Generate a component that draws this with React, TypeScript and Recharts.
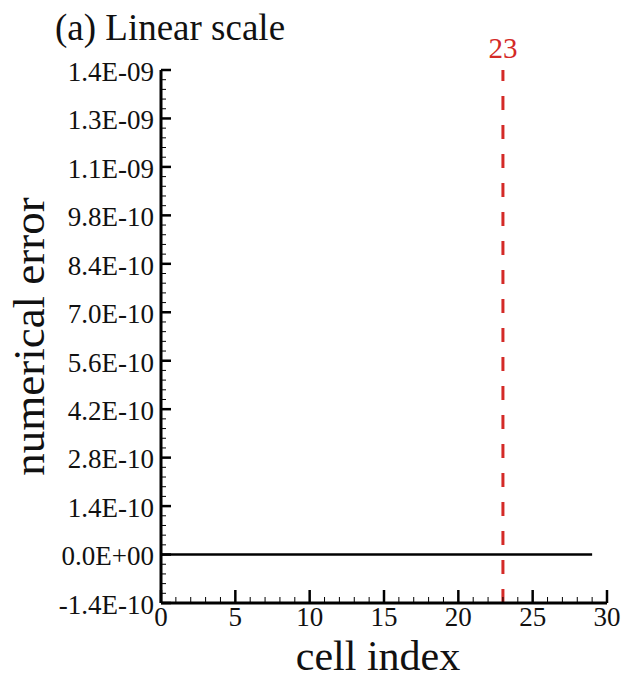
import React from 'react';
import {
  LineChart,
  Line,
  XAxis,
  YAxis,
  ReferenceLine,
  Label
} from 'recharts';

// cell index and numerical error (all zero on the linear scale)
const cellIndex = [
  0, 1, 2, 3, 4, 5, 6, 7, 8, 9, 10, 11, 12, 13, 14,
  15, 16, 17, 18, 19, 20, 21, 22, 23, 24, 25, 26, 27, 28, 29
];
const numericalError = [
  0, 0, 0, 0, 0, 0, 0, 0, 0, 0, 0, 0, 0, 0, 0,
  0, 0, 0, 0, 0, 0, 0, 0, 0, 0, 0, 0, 0, 0, 0
];

const markedCell = 23;

const xMajorTicks = [0, 5, 10, 15, 20, 25, 30];
const yMajorTicks = [
  -1.4e-10, 0, 1.4e-10, 2.8e-10, 4.2e-10, 5.6e-10,
  7.0e-10, 8.4e-10, 9.8e-10, 1.12e-9, 1.26e-9, 1.4e-9
];
const yStep = 1.4e-10;
const yMinorPerMajor = 5;
const xMinorPerMajor = 5;

const data = cellIndex.map((c, i) => ({ cell: c, error: numericalError[i] }));

// minor ticks between the major ones
const xTicks: number[] = [];
for (let i = 0; i < xMajorTicks.length - 1; i++) {
  const a = xMajorTicks[i];
  const b = xMajorTicks[i + 1];
  for (let j = 0; j < xMinorPerMajor; j++) xTicks.push(a + ((b - a) * j) / xMinorPerMajor);
}
xTicks.push(xMajorTicks[xMajorTicks.length - 1]);

const yTicks: number[] = [];
for (let i = 0; i < yMajorTicks.length - 1; i++) {
  const a = yMajorTicks[i];
  for (let j = 0; j < yMinorPerMajor; j++) yTicks.push(j === 0 ? a : a + (yStep * j) / yMinorPerMajor);
}
yTicks.push(yMajorTicks[yMajorTicks.length - 1]);

const FONT = '"Liberation Serif", "Times New Roman", serif';
const RED = '#d42a27';

const fmtExp = (v: number) => {
  const [m, e] = v.toExponential(1).split('e');
  const sign = e[0] === '-' ? '-' : '+';
  const digits = e.replace(/[+-]/, '').padStart(2, '0');
  return `${m}E${sign}${digits}`;
};

const XTick = (props: any) => {
  const { x, y, payload } = props;
  const major = xMajorTicks.includes(payload.value);
  return (
    <g>
      <line x1={x} x2={x} y1={y} y2={y - (major ? 13 : 6)} stroke="#000" strokeWidth={major ? 2.5 : 1} />
      {major && (
        <text x={x} y={y + 23} textAnchor="middle" fontSize={27} fontFamily={FONT} fill="#111">
          {payload.value}
        </text>
      )}
    </g>
  );
};

const YTick = (props: any) => {
  const { x, y, payload } = props;
  const k = Math.round(payload.value / (yStep / yMinorPerMajor));
  const major = k % yMinorPerMajor === 0;
  return (
    <g>
      <line x1={x} x2={x + (major ? 10 : 5)} y1={y} y2={y} stroke="#000" strokeWidth={major ? 2.5 : 1} />
      {major && (
        <text x={x - 7} y={y} dy="0.4em" textAnchor="end" fontSize={27} fontFamily={FONT} fill="#111">
          {fmtExp(payload.value)}
        </text>
      )}
    </g>
  );
};

export default function App() {
  return (
    <div style={{ position: 'relative', width: 629, height: 680, background: '#fff' }}>
      <style>{'body{margin:0}'}</style>
      <LineChart
        width={629}
        height={680}
        data={data}
        margin={{ top: 70, right: 22, bottom: 37, left: 41 }}
      >
        <XAxis
          dataKey="cell"
          type="number"
          domain={[0, 30]}
          ticks={xTicks}
          interval={0}
          tickSize={0}
          tickMargin={0}
          tickLine={false}
          tick={<XTick />}
          axisLine={{ stroke: '#000', strokeWidth: 3 }}
          height={40}
        >
          <Label
            content={(p: any) => {
              const vb = p.viewBox;
              return (
                <text
                  x={vb.x + vb.width / 2 - 6}
                  y={vb.y + 67}
                  textAnchor="middle"
                  fontSize={42}
                  fontFamily={FONT}
                  fill="#111"
                >
                  cell index
                </text>
              );
            }}
          />
        </XAxis>
        <YAxis
          type="number"
          domain={[-1.4e-10, 1.4e-9]}
          ticks={yTicks}
          interval={0}
          allowDataOverflow
          tickSize={0}
          tickMargin={0}
          tickLine={false}
          tick={<YTick />}
          axisLine={{ stroke: '#000', strokeWidth: 3 }}
          width={120}
        >
          <Label
            content={(p: any) => {
              const vb = p.viewBox;
              const cx = 44;
              const cy = vb.y + vb.height / 2;
              return (
                <text
                  x={cx}
                  y={cy}
                  transform={`rotate(-90, ${cx}, ${cy})`}
                  textAnchor="middle"
                  fontSize={45}
                  fontFamily={FONT}
                  fill="#111"
                >
                  numerical error
                </text>
              );
            }}
          />
        </YAxis>
        <ReferenceLine
          x={markedCell}
          stroke={RED}
          strokeWidth={3}
          strokeDasharray="14 15"
          label={{ value: String(markedCell), position: 'top', offset: 12, fill: RED, fontSize: 29, fontFamily: FONT }}
        />
        <Line
          type="linear"
          dataKey="error"
          stroke="#000"
          strokeWidth={2.5}
          dot={false}
          isAnimationActive={false}
        />
      </LineChart>
      <svg
        width={629}
        height={680}
        style={{ position: 'absolute', left: 0, top: 0, pointerEvents: 'none' }}
      >
        <text x={55} y={40} fontSize={37} fontFamily={FONT} fill="#111">
          (a) Linear scale
        </text>
      </svg>
    </div>
  );
}
